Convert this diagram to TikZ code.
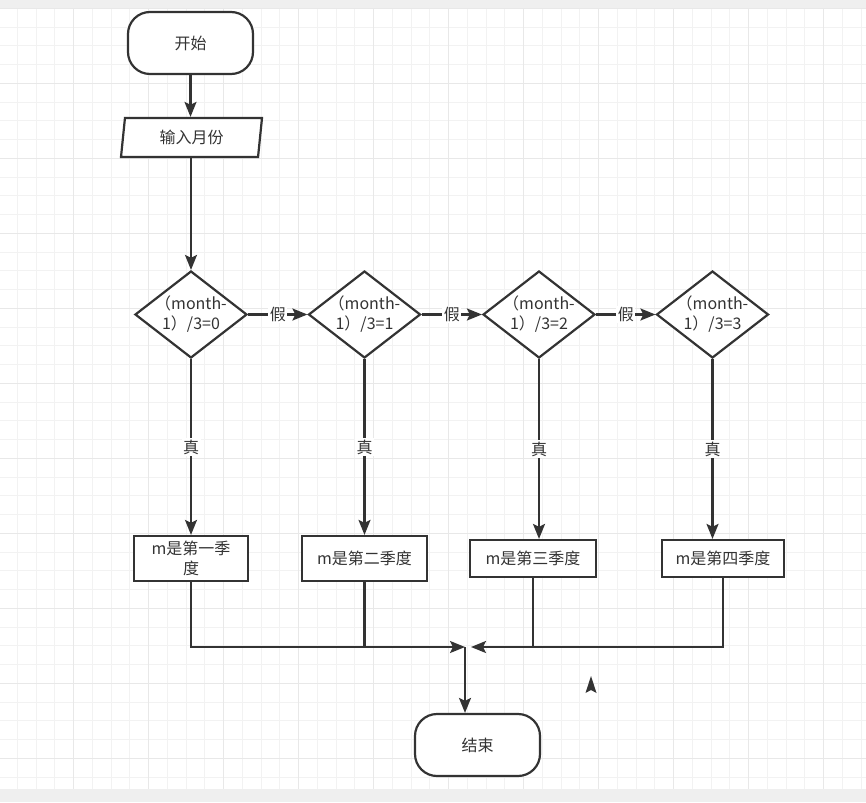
\documentclass[tikz,border=0pt]{standalone}
\usepackage{fontspec}
\newfontfamily\cjk{Noto Sans CJK SC}
\usetikzlibrary{arrows.meta,shapes.geometric}
\definecolor{ink}{HTML}{333333}
\definecolor{gminor}{HTML}{F2F2F2}
\definecolor{gmajor}{HTML}{E8E8E8}
\definecolor{band}{HTML}{EFEFEF}
\begin{document}
\begin{tikzpicture}[x=1pt,y=-1pt,
  font=\cjk\fontsize{16}{20}\selectfont, text=ink,
  >={Stealth[length=15pt,width=12pt,inset=3pt]},
  term/.style={draw=ink, line width=2.2pt, fill=white, rounded corners=22pt, minimum width=125pt, minimum height=62pt, inner sep=0pt},
  box/.style={draw=ink, line width=2.2pt, fill=white, minimum height=45pt, inner sep=0pt, align=center},
  dia/.style={draw=ink, line width=2.2pt, fill=white, diamond, minimum width=112pt, minimum height=87pt, inner sep=0pt},
  dtext/.style={align=center, inner sep=0pt},
  lbl/.style={fill=white, inner sep=1.5pt},
  flow/.style={draw=ink, line width=2.2pt, ->},
  plain/.style={draw=ink, line width=2.2pt},
  gridminor/.style={draw=gminor, line width=1pt},
  gridmajor/.style={draw=gmajor, line width=1.2pt}
]
\useasboundingbox (0,0) rectangle (866,802);
% background and grid
\fill[band] (0,0) rectangle (866,802);
\fill[white] (0,8.5) rectangle (866,789);
\foreach \k in {-3,...,42} \draw[gridminor] ({73.7+\k*18.75},8.5) -- ({73.7+\k*18.75},789);
\foreach \k in {-4,...,37} \draw[gridminor] (0,{83.3+\k*18.75}) -- (866,{83.3+\k*18.75});
\foreach \k in {0,4,...,40} \draw[gridmajor] ({73.7+\k*18.75},8.5) -- ({73.7+\k*18.75},789);
\foreach \k in {-4,0,...,36} \draw[gridmajor] (0,{83.3+\k*18.75}) -- (866,{83.3+\k*18.75});

% nodes
\node[term] (start) at (190.5,43) {开始};
\node[draw=ink, line width=2.2pt, fill=white, trapezium, trapezium left angle=75, trapezium right angle=105,
      trapezium stretches body, minimum width=141pt, minimum height=39pt, inner sep=0pt] (inp) at (191.5,137.5) {输入月份};

\node[dia, label={[dtext]center:{（month-\\1）/3=0}}] (d1) at (191,314.5) {};
\node[dia, label={[dtext]center:{（month-\\1）/3=1}}] (d2) at (364.5,314.5) {};
\node[dia, label={[dtext]center:{（month-\\1）/3=2}}] (d3) at (539,314.5) {};
\node[dia, label={[dtext]center:{（month-\\1）/3=3}}] (d4) at (712.5,314.5) {};

\node[box, minimum width=114pt] (b1) at (191,558.5) {m是第一季\\度};
\node[box, minimum width=125pt] (b2) at (364.5,558.5) {m是第二季度};
\node[box, minimum width=126pt, minimum height=37pt] (b3) at (533,558.5) {m是第三季度};
\node[box, minimum width=122pt, minimum height=37pt] (b4) at (723,558.5) {m是第四季度};

\node[term] (end) at (477.5,745) {结束};

\coordinate (j1) at (465,647);
\coordinate (j2) at (471,647);
\coordinate (jv) at (465,647);

% connectors
\draw[flow] (start.south) -- (start.south |- inp.north);
\draw[flow] (d1.north |- inp.south) -- (d1.north);

\draw[flow] (d1.east) -- node[lbl]{假} (d2.west);
\draw[flow] (d2.east) -- node[lbl]{假} (d3.west);
\draw[flow] (d3.east) -- node[lbl]{假} (d4.west);

\draw[flow] (d1.south) -- node[lbl]{真} (d1.south |- b1.north);
\draw[flow] (d2.south) -- node[lbl]{真} (d2.south |- b2.north);
\draw[flow] (d3.south) -- node[lbl]{真} (d3.south |- b3.north);
\draw[flow] (d4.south) -- node[lbl]{真} (d4.south |- b4.north);

\draw[flow] (b1.south) |- (j1);
\draw[flow] (b4.south) |- (j2);
\draw[plain] (b2.south) -- (b2.south |- jv);
\draw[plain] (b3.south) -- (b3.south |- jv);
\draw[flow] (jv) -- (jv |- end.north);

% stray arrowhead
\fill[ink] (591,676) -- (596.5,693) -- (591,690) -- (585.5,693) -- cycle;
\end{tikzpicture}
\end{document}
